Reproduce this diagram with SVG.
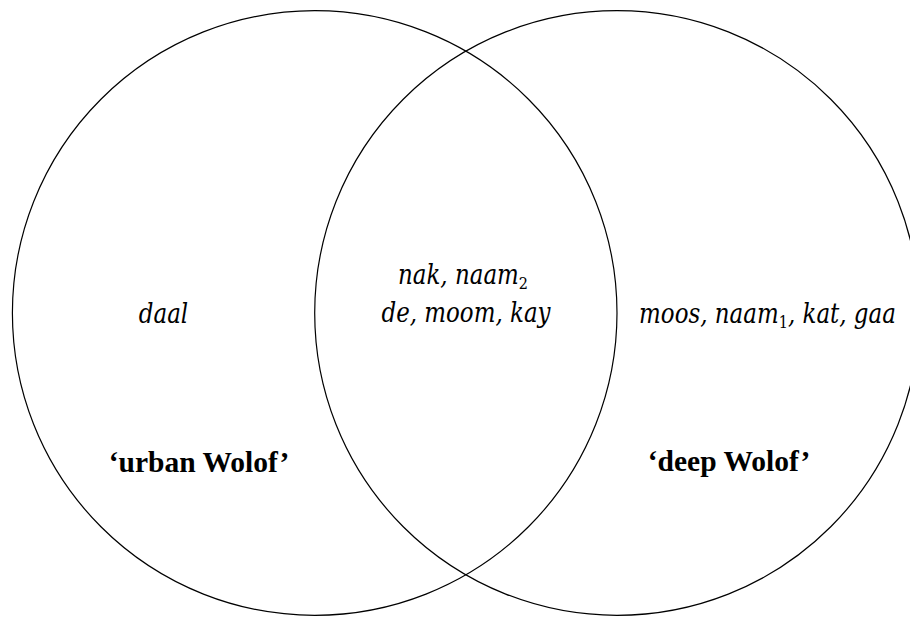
<svg xmlns="http://www.w3.org/2000/svg" width="910" height="617" viewBox="0 0 910 617">
<style>
.c{fill:none;stroke:#000;stroke-width:1.2}
.it{font-family:"DejaVu Serif","Liberation Serif",serif;font-style:italic;font-size:27px;fill:#000;text-anchor:middle}
.b{font-family:"Liberation Serif","Times New Roman",serif;font-weight:bold;font-size:29.5px;fill:#000;text-anchor:middle}
.sub{font-size:17px;font-style:normal}
</style>
<rect width="910" height="617" fill="#fff"/>
<g id="urban">
<circle class="c" cx="314.7" cy="313" r="302.3"/>
<text class="it" transform="translate(163.5,323) scale(0.85,1)">daal</text>
<text class="b" x="199" y="472">‘urban Wolof’</text>
</g>
<g id="deep">
<circle class="c" cx="617" cy="313" r="302.3"/>
<text class="it" transform="translate(767.5,323) scale(0.85,1)">moos, naam<tspan class="sub" dy="5">1</tspan><tspan dy="-5">, kat, gaa</tspan></text>
<text class="b" x="729" y="471">‘deep Wolof’</text>
</g>
<g id="overlap">
<text class="it" transform="translate(463,284) scale(0.85,1)">nak, naam<tspan class="sub" dy="5">2</tspan></text>
<text class="it" transform="translate(466,322) scale(0.85,1)">de, moom, kay</text>
</g>
</svg>
